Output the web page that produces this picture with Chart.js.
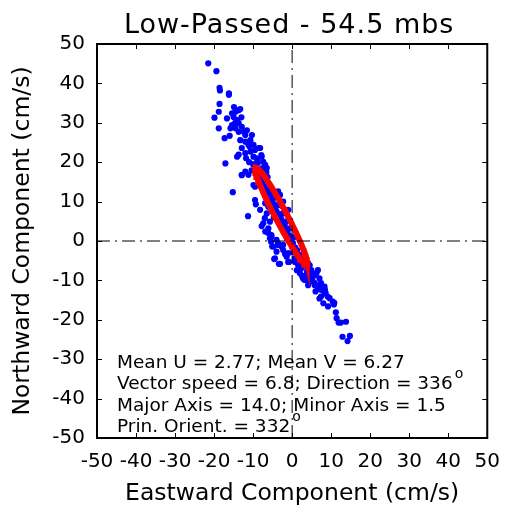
<!DOCTYPE html>
<html>
<head>
<meta charset="utf-8">
<script src="https://cdn.jsdelivr.net/npm/chart.js@4"></script>
<style>
  html, body { margin: 0; padding: 0; background: #fff; }
</style>
</head>
<body>
<canvas id="currentChart" width="512" height="512"></canvas>
<script>
// velocity samples (cm/s)
const eastward = [
  -21.5, -19.4, -18.6, -18.5, -16.2, -16.2, -18.6, -18.8, -19.9, -18.8, -17.3, -17.1, -15.2, -12.9,
  -16.7, -15.4, -14.5, -13.3, -15.0, -14.1, -15.4, -15.8, -14.5, -13.7, -12.9, -16.0, -13.7, -12.4,
  -12.0, -13.3, -12.0, -10.7, -10.3, -11.2, -9.9, -12.9, -13.7, -12.0, -10.7, -9.5, -8.6, -9.9,
  -9.1, -7.8, -7.4, -6.9, -14.1, -8.2, -13.7, -14.9, -7.9, -6.6, -6.5,
  -12.9, -11.2, -12.0, -9.9, -9.5, -9.5, -9.3, -8.2, -11.3, -7.4, -7.8, -6.9, -6.1, -5.7, -5.3,
  -5.4, -4.8, -3.6, -6.1, -6.5, -6.1, -6.9, -3.1, -2.3, -1.0,
  -10.0, -8.8, -7.6, -9.4, -11.0, -10.4, -3.6, -2.8,
  -5.1, -4.6, -3.4, -0.8, -5.3, -4.0, -3.6, -2.3, -4.4, -2.7, -4.0, -5.7, -3.1, -1.0, 0.7,
  -2.3, -1.4, -1.0, 0.7, 1.5,
  -8.6, -8.0, -7.6, -7.1, -6.4, -6.0, -5.3, -4.9, -4.2, -4.0, -3.3, -2.8, -2.3, -1.9, -1.2, -0.8,
  -0.3, 0.2, 0.8, 1.3, 1.9, 2.4, -7.2, -5.8, -4.6, -3.6, -2.4, -1.4, -0.6, 0.5, -6.8, -5.5, -4.4,
  -3.2, -2.2, -1.2, 0.0,
  1.5, 2.3, 3.0, 3.8, 2.0, 4.5, 1.2, 5.8, 3.3,
  2.8, 3.6, 4.5, 5.3, 6.2, 7.0, 4.1, 5.8, 7.4, 4.9, 6.6,
  3.2, 4.1, 5.3, 5.8, 6.6, 7.4, 8.3, 9.1, 10.4, 7.4, 7.0, 8.3, 4.9, 4.1,
  7.9, 8.4, 8.6, 9.6, 8.0, 10.8, 10.7, 11.2, 11.4, 11.9, 12.5, 13.8, 12.9, 14.8, 14.2,
  -14.6, -13.0, -11.6, -10.9, -11.8, -8.9, -6.3, -5.0, -4.7, -7.0, -1.8, 0.3, 2.6, 6.0, 9.2
];
const northward = [
  45.1, 43.1, 38.9, 38.2, 37.5, 37.1, 34.8, 32.8, 31.3, 28.6, 26.1, 19.7, 12.4, 16.7,
  31.1, 32.4, 32.8, 33.5, 31.5, 30.7, 29.4, 28.6, 28.6, 29.9, 29.0, 26.7, 27.7, 27.7,
  26.9, 25.6, 25.2, 25.6, 26.9, 24.4, 24.4, 23.6, 21.9, 22.3, 22.7, 23.1, 23.6, 21.4,
  21.0, 21.4, 20.1, 19.3, 21.4, 23.6, 33.2, 34.0, 21.8, 17.5, 18.5,
  16.8, 16.8, 17.6, 14.2, 13.8, 10.4, 9.3, 7.9, 6.3, 4.5, 3.8, 2.4, 3.2, 4.9, 1.5,
  -0.2, -1.4, -0.6, 2.0, 7.0, 8.7, 9.6, 11.7, 10.0, 7.9,
  19.5, 19.8, 18.5, 18.2, 20.0, 17.9, 12.6, 9.0,
  -1.4, -4.6, -5.8, -5.3, 1.1, 0.3, -1.0, -1.0, -4.4, -1.4, -2.7, 0.7, -5.8, -5.3, -5.3,
  -2.3, -4.0, -3.1, -4.4, -3.6,
  17.2, 16.0, 14.6, 13.8, 12.6, 11.5, 10.8, 9.6, 8.7, 7.5, 6.8, 5.6, 4.7, 3.9, 2.8, 1.5,
  0.6, -0.5, -1.7, -2.4, -3.5, -4.6, 15.4, 13.1, 11.0, 9.2, 7.0, 5.0, 3.2, 1.0, 11.2, 8.9, 6.3,
  4.4, 2.4, 0.5, -1.6,
  -6.0, -7.0, -6.5, -7.8, -8.2, -6.2, -7.4, -8.6, -8.8,
  -9.5, -9.9, -9.1, -10.3, -8.2, -9.5, -11.2, -11.2, -10.7, -7.8, -7.4,
  -9.9, -10.3, -9.1, -10.7, -11.6, -12.4, -13.3, -14.1, -15.4, -14.1, -14.6, -11.6, -7.4, -5.7,
  -11.7, -12.4, -13.2, -14.5, -15.8, -15.7, -16.1, -18.1, -19.6, -20.7, -20.7, -20.5, -24.3, -24.1, -25.4,
  30.0, 31.4, 28.1, 24.0, 21.0, 20.4, 16.2, 12.0, 6.0, 5.8, -3.3, -2.8, -9.0, -12.8, -16.6
];

// principal axis ellipse (center, semi axes, compass orientation)
const ellipseU = -2.77;
const ellipseV = 6.27;
const majorAxis = 14.0;
const minorAxis = 1.5;
const orientDeg = 332;

const axisTicks = [-50, -40, -30, -20, -10, 0, 10, 20, 30, 40, 50];

const statsLines = [
  "Mean U = 2.77; Mean V = 6.27",
  "Vector speed = 6.8; Direction = 336",
  "Major Axis = 14.0; Minor Axis = 1.5",
  "Prin. Orient. = 332"
];

const scatterData = eastward.map((u, i) => ({ x: u, y: northward[i] }));

const th = orientDeg * Math.PI / 180;
const ellipseData = [];
for (let k = 0; k <= 120; k++) {
  const t = k / 120 * 2 * Math.PI;
  const a = majorAxis * Math.cos(t), b = minorAxis * Math.sin(t);
  ellipseData.push({
    x: ellipseU + a * Math.sin(th) + b * Math.cos(th),
    y: ellipseV + a * Math.cos(th) - b * Math.sin(th)
  });
}

const dashDot = [13, 5, 2, 5];

const frameAndText = {
  id: "frameAndText",
  afterDraw(chart) {
    const ctx = chart.ctx;
    const { left, right, top, bottom } = chart.chartArea;
    const xs = chart.scales.x, ys = chart.scales.y;
    ctx.save();
    // inward ticks
    ctx.strokeStyle = "#000";
    ctx.lineWidth = 1;
    ctx.beginPath();
    axisTicks.forEach(v => {
      const px = Math.round(xs.getPixelForValue(v)) + 0.5;
      ctx.moveTo(px, bottom); ctx.lineTo(px, bottom - 5);
      ctx.moveTo(px, top); ctx.lineTo(px, top + 5);
      const py = Math.round(ys.getPixelForValue(v)) + 0.5;
      ctx.moveTo(left, py); ctx.lineTo(left + 5, py);
      ctx.moveTo(right, py); ctx.lineTo(right - 5, py);
    });
    ctx.stroke();
    // box
    ctx.lineWidth = 2;
    ctx.strokeRect(left, top, right - left, bottom - top);

    // title
    ctx.fillStyle = "#000";
    ctx.font = "27px 'DejaVu Sans'";
    ctx.letterSpacing = "1px";
    ctx.textAlign = "center";
    ctx.textBaseline = "alphabetic";
    ctx.fillText("Low-Passed - 54.5 mbs", (left + right) / 2 - 3, 33);
    ctx.letterSpacing = "0px";

    // stats
    ctx.textAlign = "left";
    const baseX = 117;
    const baseYs = [368, 389, 411, 432];
    statsLines.forEach((s, i) => {
      ctx.font = "18.5px 'DejaVu Sans'";
      ctx.fillText(s, baseX, baseYs[i]);
      if (i === 1 || i === 3) {
        const w = ctx.measureText(s).width;
        ctx.font = "14px 'DejaVu Sans'";
        ctx.fillText("o", baseX + w + 2, baseYs[i] - 11);
      }
    });
    ctx.restore();
  }
};

new Chart(document.getElementById("currentChart"), {
  type: "scatter",
  data: {
    datasets: [
      {
        data: [{ x: 0, y: -50 }, { x: 0, y: 50 }],
        showLine: true,
        borderColor: "#000",
        borderWidth: 1,
        borderDash: dashDot,
        pointRadius: 0
      },
      {
        data: [{ x: -50, y: 0 }, { x: 50, y: 0 }],
        showLine: true,
        borderColor: "#000",
        borderWidth: 1,
        borderDash: dashDot,
        pointRadius: 0
      },
      {
        data: ellipseData,
        showLine: true,
        borderColor: "rgb(255, 0, 0)",
        borderWidth: 6,
        pointRadius: 0,
        tension: 0
      },
      {
        data: scatterData,
        backgroundColor: "rgb(0, 0, 255)",
        borderWidth: 0,
        pointRadius: 3.1
      }
    ]
  },
  options: {
    responsive: false,
    animation: false,
    devicePixelRatio: 1,
    layout: { padding: { top: 44, right: 21, bottom: 0, left: 0 } },
    plugins: {
      legend: { display: false },
      tooltip: { enabled: false }
    },
    scales: {
      x: {
        type: "linear",
        min: -50,
        max: 50,
        afterBuildTicks: (scale) => { scale.ticks = axisTicks.map(v => ({ value: v })); },
        afterFit: (scale) => { scale.height = 74; },
        grid: { display: false, drawTicks: false },
        border: { display: false },
        ticks: { color: "#000", padding: 12, maxRotation: 0, autoSkip: false, font: { family: "DejaVu Sans", size: 20 } },
        title: {
          display: true,
          text: "Eastward Component (cm/s)",
          color: "#000",
          padding: { top: 0, bottom: 4 },
          font: { family: "DejaVu Sans", size: 23.5 }
        }
      },
      y: {
        type: "linear",
        min: -50,
        max: 50,
        afterBuildTicks: (scale) => { scale.ticks = axisTicks.map(v => ({ value: v })); },
        afterFit: (scale) => { scale.width = 97; },
        grid: { display: false, drawTicks: false },
        border: { display: false },
        ticks: { color: "#000", padding: 12, autoSkip: false, font: { family: "DejaVu Sans", size: 20 } },
        title: {
          display: true,
          text: "Northward Component (cm/s)",
          color: "#000",
          padding: { top: 9, bottom: 0 },
          font: { family: "DejaVu Sans", size: 23.5 }
        }
      }
    }
  },
  plugins: [frameAndText]
});
</script>
</body>
</html>
